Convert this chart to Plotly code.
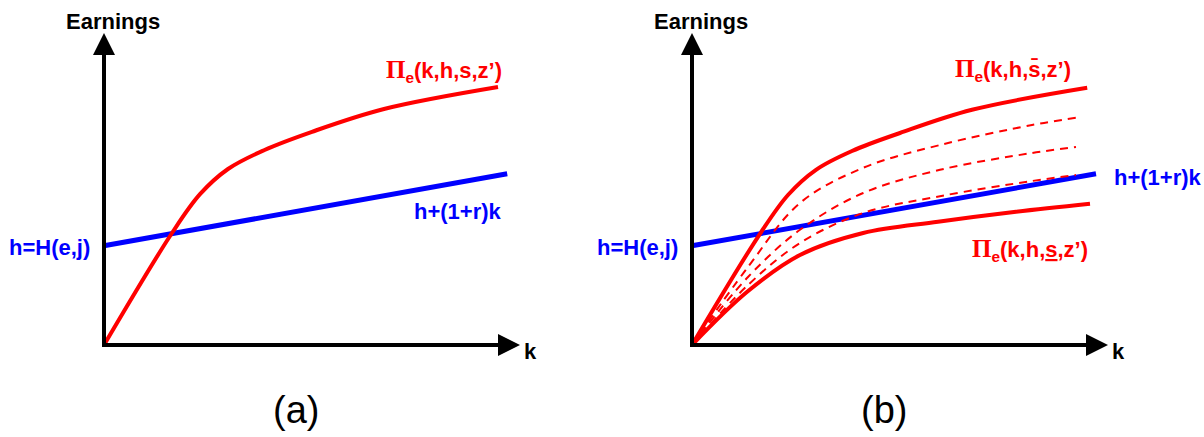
import plotly.graph_objects as go

# ---- data (k, earnings) in model units ----
# panel (a): profit curve and outside option line
k_a = [0, 1.7, 2.4, 3.1, 4.0, 5.2, 7.0, 9.85]
pi_a = [0, 2.8, 3.77, 4.4, 4.87, 5.33, 5.9, 6.45]
k_line_a = [0, 10.08]
out_a = [2.48, 4.28]

# panel (b): upper and lower profit curves
k_hi = [0, 1.7, 2.4, 3.1, 4.0, 5.2, 7.0, 9.88]
pi_hi = [0, 2.78, 3.75, 4.38, 4.85, 5.3, 5.88, 6.43]
k_lo = [0, 1.38, 2.7, 4.28, 6.15, 8.1, 9.95]
pi_lo = [0, 1.33, 2.25, 2.8, 3.08, 3.33, 3.53]

# panel (b): intermediate curves (dashed)
k_mid = [0, 1.4, 2.7, 4.28, 6.2, 8.5, 9.6]
pi_d1 = [0, 1.95, 3.55, 4.43, 5.0, 5.5, 5.68]
pi_d2 = [0, 1.7, 2.88, 3.8, 4.38, 4.8, 4.95]
pi_d3 = [0, 1.5, 2.55, 3.3, 3.72, 4.1, 4.25]

k_line_b = [0, 10.1]
out_b = [2.48, 4.28]

K_MAX = 10.4      # end of the k axis arrow
E_MAX = 7.8       # end of the earnings axis arrow

RED = "#ff0000"
BLUE = "#0000ff"
FONT = "Liberation Sans, Arial, sans-serif"

fig = go.Figure()

def curve(x, y, xa, ya, color, width, dash="solid"):
    fig.add_trace(go.Scatter(
        x=x, y=y, xaxis=xa, yaxis=ya, mode="lines",
        line=dict(color=color, width=width, dash=dash, shape="spline", smoothing=1.0),
        hoverinfo="skip", showlegend=False))

# panel (a)
curve(k_line_a, out_a, "x", "y", BLUE, 5)
curve(k_a, pi_a, "x", "y", RED, 4)

# panel (b)
curve(k_line_b, out_b, "x2", "y2", BLUE, 5)
for py in (pi_d1, pi_d2, pi_d3):
    curve(k_mid, py, "x2", "y2", RED, 2, dash="8px,6px")
curve(k_hi, pi_hi, "x2", "y2", RED, 4)
curve(k_lo, pi_lo, "x2", "y2", RED, 4)

annotations = []

def axis_arrows(xr, yr):
    for tx, ty in [(K_MAX, 0), (0, E_MAX)]:
        annotations.append(dict(
            x=tx, y=ty, ax=0, ay=0, xref=xr, yref=yr, axref=xr, ayref=yr,
            text="", showarrow=True, arrowhead=2, arrowsize=1.1,
            arrowwidth=4, arrowcolor="black", standoff=0, startstandoff=0))

def label(x, y, xr, yr, text, color, size=22, bold=True, xanchor="center"):
    annotations.append(dict(
        x=x, y=y, xref=xr, yref=yr, text=f"<b>{text}</b>" if bold else text,
        showarrow=False, xanchor=xanchor, yanchor="middle",
        font=dict(family=FONT, size=size, color=color)))

PI = ('<span style="font-family:Liberation Serif, Times New Roman, serif;'
      'font-size:25px">Π</span><sub>e</sub>')

for xr, yr in [("x", "y"), ("x2", "y2")]:
    axis_arrows(xr, yr)
    label(0.23, 8.1, xr, yr, "Earnings", "black")
    label(10.65, -0.17, xr, yr, "k", "black")
    label(-0.3, 2.45, xr, yr, "h=H(e,j)", BLUE, xanchor="right")

label(8.85, 3.35, "x", "y", "h+(1+r)k", BLUE)
label(8.5, 6.85, "x", "y", PI + "(k,h,s,z’)", RED)
label(10.5, 4.2, "x2", "y2", "h+(1+r)k", BLUE, xanchor="left")
label(8.02, 6.88, "x2", "y2", PI + "(k,h,s\u0304,z’)", RED)
label(8.45, 2.38, "x2", "y2", PI + "(k,h,<u>s</u>,z’)", RED)
label(4.8, -1.62, "x", "y", "(a)", "black", size=38, bold=False)
label(4.8, -1.62, "x2", "y2", "(b)", "black", size=38, bold=False)

# 40 px per unit in both directions
hidden = dict(showgrid=False, zeroline=False, showticklabels=False, ticks="", showline=False)
fig.update_layout(
    width=1204, height=437, margin=dict(l=0, r=0, t=0, b=0),
    paper_bgcolor="white", plot_bgcolor="white",
    xaxis=dict(domain=[0, 0.5], range=[-2.6, 12.45], **hidden),
    xaxis2=dict(domain=[0.5, 1], range=[-2.25, 12.8], **hidden),
    yaxis=dict(domain=[0, 1], range=[-2.3, 8.625], **hidden),
    yaxis2=dict(domain=[0, 1], range=[-2.3, 8.625], anchor="x2", **hidden),
    annotations=annotations,
)

# axis lines meeting at the origin
for xr, yr in [("x", "y"), ("x2", "y2")]:
    fig.add_shape(type="line", xref=xr, yref=yr, x0=-0.05, y0=0, x1=K_MAX - 0.3, y1=0,
                  line=dict(color="black", width=4))
    fig.add_shape(type="line", xref=xr, yref=yr, x0=0, y0=-0.05, x1=0, y1=E_MAX - 0.3,
                  line=dict(color="black", width=4))

fig.write_html("out.html")
